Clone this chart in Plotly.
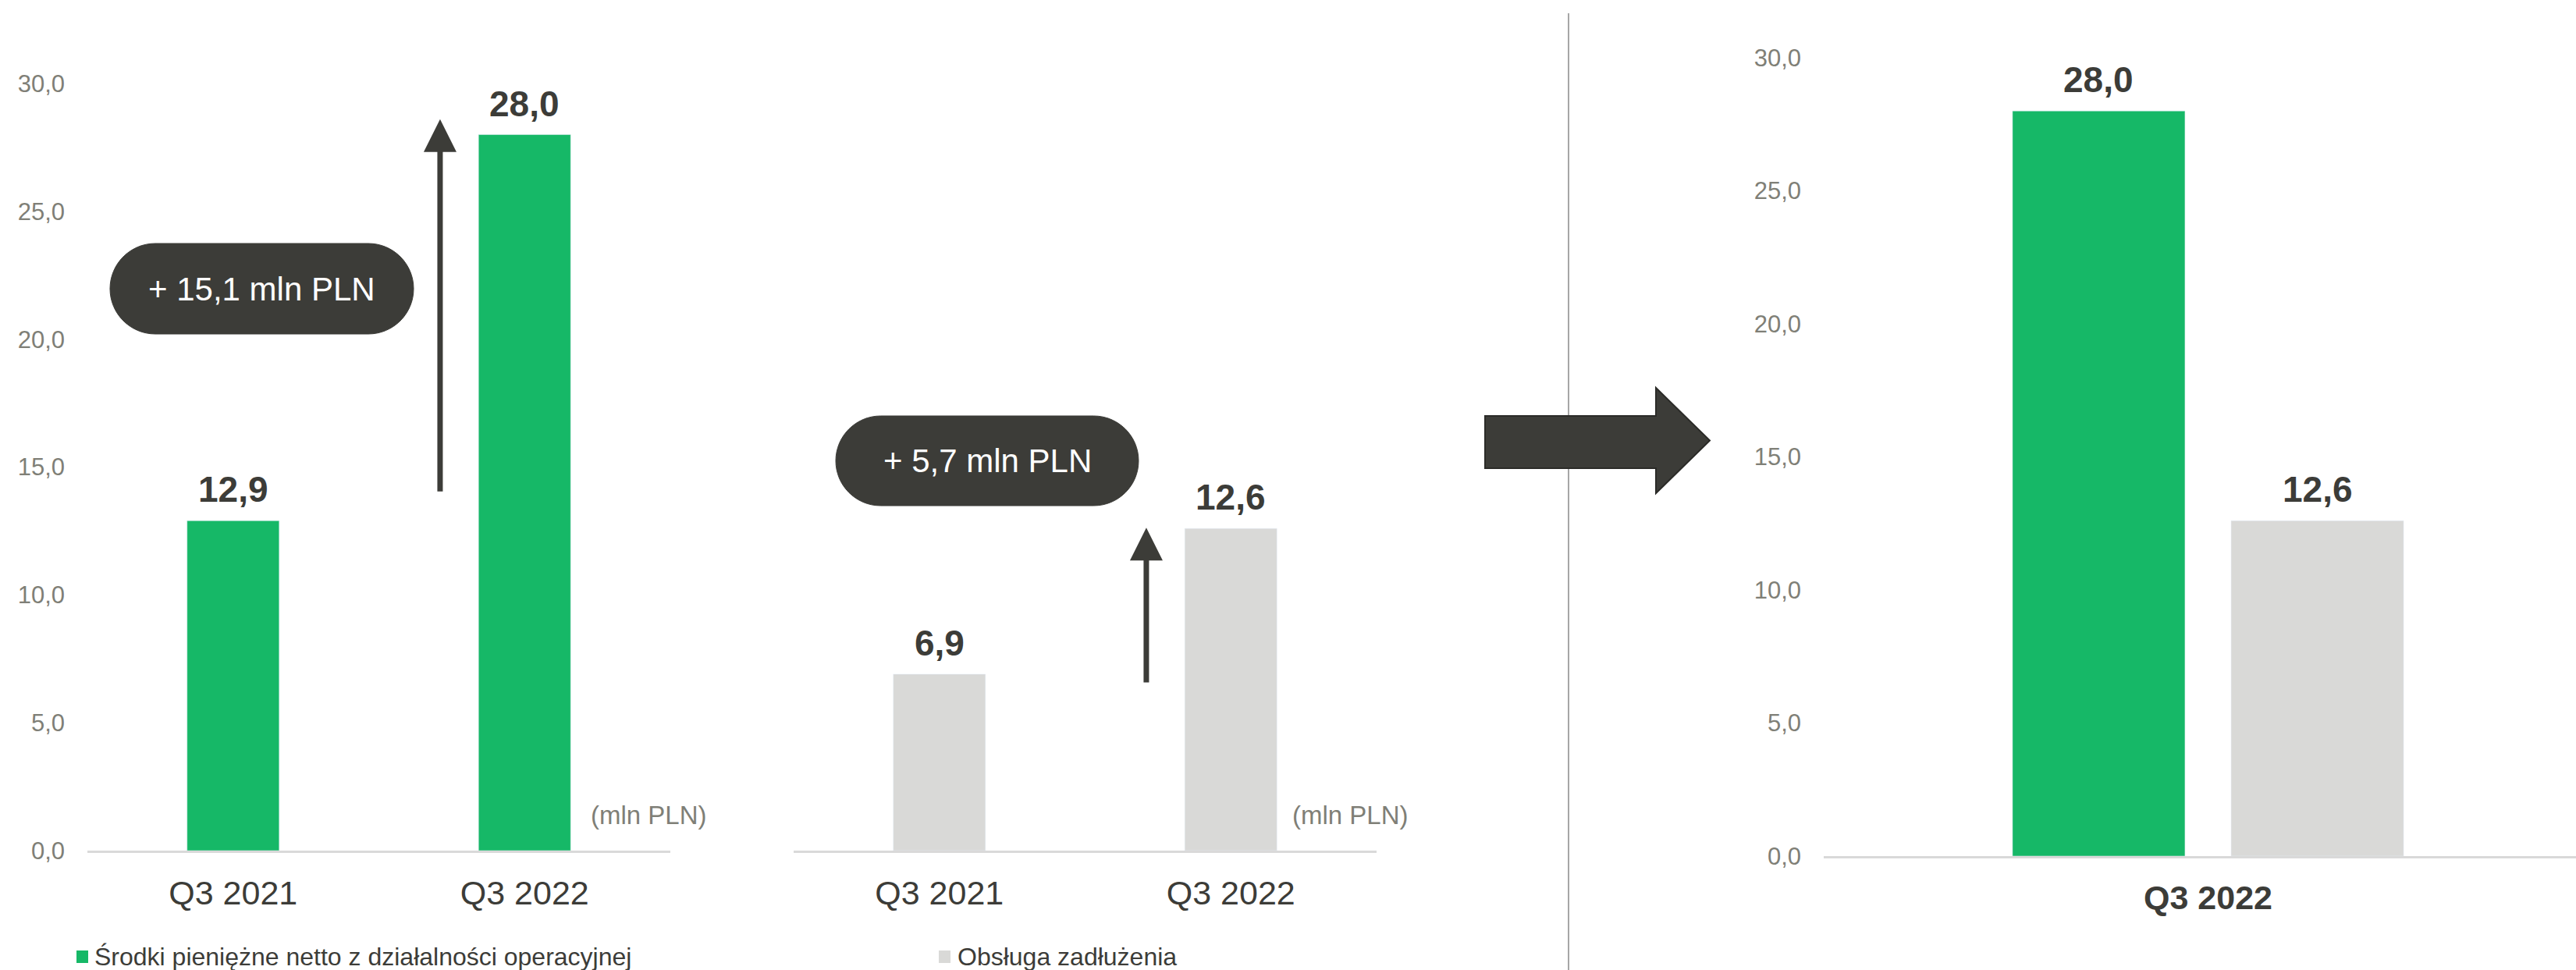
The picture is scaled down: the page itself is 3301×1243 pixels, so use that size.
import plotly.graph_objects as go

# ---------------- data ----------------
categories = ["Q3 2021", "Q3 2022"]
cash_ops = [12.9, 28.0]          # Środki pieniężne netto z działalności operacyjnej
debt_service = [6.9, 12.6]       # Obsługa zadłużenia
summary_category = ["Q3 2022"]
y_ticks = [0, 5, 10, 15, 20, 25, 30]
series_names = ["Środki pieniężne netto z działalności operacyjnej", "Obsługa zadłużenia"]
unit_label = "(mln PLN)"

# ---------------- style ----------------
W, H = 3301, 1243
GREEN = "#16b867"
GREY = "#d9d9d7"
DARK = "#3c3c38"
TICK_GREY = "#7f7f77"
FONT = "Liberation Sans, Arial, sans-serif"


def px(x):
    return x / W


def py(y):
    return 1 - y / H


fig = go.Figure()

# panel 1 / panel 2 bars
fig.add_trace(go.Bar(x=categories, y=cash_ops, marker_color=GREEN, width=0.316,
                     name=series_names[0], xaxis="x", yaxis="y", showlegend=False))
fig.add_trace(go.Bar(x=categories, y=debt_service, marker_color=GREY, width=0.316,
                     name=series_names[1], xaxis="x2", yaxis="y2", showlegend=False))
# panel 3 (comparison of latest quarter)
bw3 = 0.2244
fig.add_trace(go.Bar(x=summary_category, y=[cash_ops[-1]], marker_color=GREEN, width=bw3,
                     offset=-0.2544, showlegend=False, name=series_names[0], xaxis="x3", yaxis="y3"))
fig.add_trace(go.Bar(x=summary_category, y=[debt_service[-1]], marker_color=GREY, width=bw3,
                     offset=0.03, showlegend=False, name=series_names[1], xaxis="x3", yaxis="y3"))

annotations = []
shapes = []


def fmt(v):
    return f"{v:.1f}".replace(".", ",")


VAL_FONT = dict(size=46, color=DARK, family=FONT)
# value labels
for i, v in enumerate(cash_ops):
    annotations.append(dict(x=i, y=v, xref="x", yref="y", text=f"<b>{fmt(v)}</b>", showarrow=False,
                            xanchor="center", yanchor="bottom", yshift=12, font=VAL_FONT))
for i, v in enumerate(debt_service):
    annotations.append(dict(x=i, y=v, xref="x2", yref="y2", text=f"<b>{fmt(v)}</b>", showarrow=False,
                            xanchor="center", yanchor="bottom", yshift=12, font=VAL_FONT))
annotations.append(dict(x=-0.2544 + bw3 / 2, y=cash_ops[-1], xref="x3", yref="y3", text=f"<b>{fmt(cash_ops[-1])}</b>",
                        showarrow=False, xanchor="center", yanchor="bottom", yshift=12, font=VAL_FONT))
annotations.append(dict(x=0.03 + bw3 / 2, y=debt_service[-1], xref="x3", yref="y3", text=f"<b>{fmt(debt_service[-1])}</b>",
                        showarrow=False, xanchor="center", yanchor="bottom", yshift=12, font=VAL_FONT))

# growth arrows
annotations.append(dict(x=0.71, y=28.6, ax=0.71, ay=14.0, xref="x", yref="y", axref="x", ayref="y",
                        showarrow=True, arrowhead=2, arrowsize=1.2, arrowwidth=7, arrowcolor=DARK, text=""))
annotations.append(dict(x=0.71, y=12.63, ax=0.71, ay=6.53, xref="x2", yref="y2", axref="x2", ayref="y2",
                        showarrow=True, arrowhead=2, arrowsize=1.2, arrowwidth=7, arrowcolor=DARK, text=""))

# unit labels
for cx in (831, 1730):
    annotations.append(dict(x=px(cx), y=py(1044), xref="paper", yref="paper", text=unit_label, showarrow=False,
                            xanchor="center", yanchor="middle", font=dict(size=33, color=TICK_GREY, family=FONT)))


# pills
def pill(x0, y0, x1, y1):
    r = (y1 - y0) / 2
    k = 0.5523 * r
    cy = (y0 + y1) / 2
    pts = [
        ("M", [(x0 + r, y0)]),
        ("L", [(x1 - r, y0)]),
        ("C", [(x1 - r + k, y0), (x1, cy - k), (x1, cy)]),
        ("C", [(x1, cy + k), (x1 - r + k, y1), (x1 - r, y1)]),
        ("L", [(x0 + r, y1)]),
        ("C", [(x0 + r - k, y1), (x0, cy + k), (x0, cy)]),
        ("C", [(x0, cy - k), (x0 + r - k, y0), (x0 + r, y0)]),
    ]
    s = ""
    for cmd, ps in pts:
        s += cmd + " ".join(f"{px(a):.6f},{py(b):.6f}" for a, b in ps)
    return s + "Z"


delta_cash = cash_ops[1] - cash_ops[0]
delta_debt = debt_service[1] - debt_service[0]
for (x0, y0, x1, y1), d in [((141, 312, 530, 428), delta_cash), ((1071, 533, 1459, 648), delta_debt)]:
    shapes.append(dict(type="path", xref="paper", yref="paper", path=pill(x0, y0, x1, y1),
                       fillcolor=DARK, line=dict(color=DARK, width=1), layer="above"))
    annotations.append(dict(x=px((x0 + x1) / 2), y=py((y0 + y1) / 2), xref="paper", yref="paper",
                            xanchor="center", yanchor="middle",
                            text=f"+ {fmt(d)} mln PLN", showarrow=False,
                            font=dict(size=42, color="white", family=FONT)))

# legend (drawn manually so it does not push the margins)
for (sx, tx), name, col in [((98, 119), series_names[0], GREEN), ((1203, 1225), series_names[1], GREY)]:
    shapes.append(dict(type="rect", xref="paper", yref="paper", x0=px(sx), x1=px(sx + 15),
                       y0=py(1234), y1=py(1218), fillcolor=col, line=dict(width=0)))
    annotations.append(dict(x=px(tx), y=py(1226), xref="paper", yref="paper", text=name, showarrow=False,
                            xanchor="left", yanchor="middle", font=dict(size=32, color=DARK, family=FONT)))

# separator line
shapes.append(dict(type="line", xref="paper", yref="paper", x0=px(2010), x1=px(2010), y0=0, y1=py(17),
                   line=dict(color="#a6a6a6", width=2)))
# big arrow
arrow_pts = [(1903, 533), (2122, 533), (2122, 497), (2191, 564.5), (2122, 632), (2122, 600), (1903, 600)]
apath = "M" + "L".join(f"{px(a):.6f},{py(b):.6f}" for a, b in arrow_pts) + "Z"
shapes.append(dict(type="path", xref="paper", yref="paper", path=apath, fillcolor=DARK,
                   line=dict(color="#2b2b28", width=2), layer="above"))

common_x = dict(type="category", showline=True, linecolor="#d9d9d9", linewidth=3, showgrid=False,
                zeroline=False, ticks="", fixedrange=True, automargin=False)
common_y = dict(range=[0, 30], tickvals=y_ticks, tickformat=".1f", showgrid=False, zeroline=False,
                showline=False, ticks="", tickfont=dict(size=31, color=TICK_GREY, family=FONT),
                ticklabelstandoff=28, fixedrange=True, automargin=False)

fig.update_layout(
    width=W, height=H,
    margin=dict(l=0, r=0, t=0, b=0, autoexpand=False),
    paper_bgcolor="white", plot_bgcolor="white",
    separators=", ",
    barmode="overlay",
    showlegend=False,
    font=dict(family=FONT, color=DARK),
    xaxis=dict(domain=[px(112), px(859)], anchor="y", range=[-0.5, 1.5], ticklabelstandoff=14,
               tickfont=dict(size=43, color=DARK, family=FONT), **common_x),
    yaxis=dict(domain=[py(1090), py(107)], anchor="x", **common_y),
    xaxis2=dict(domain=[px(1017), px(1764)], anchor="y2", range=[-0.5, 1.5], ticklabelstandoff=14,
                tickfont=dict(size=43, color=DARK, family=FONT), **common_x),
    yaxis2=dict(domain=[py(1090), py(107)], anchor="x2", showticklabels=False, **common_y),
    xaxis3=dict(domain=[px(2337), 1.0], anchor="y3", range=[-0.5, 0.4787],
                tickvals=summary_category, ticktext=[f"<b>{c}</b>" for c in summary_category],
                ticklabelstandoff=13, tickfont=dict(size=43, color=DARK, family=FONT), **common_x),
    yaxis3=dict(domain=[py(1097), py(74)], anchor="x3", **common_y),
    annotations=annotations,
    shapes=shapes,
)

fig.write_html("out.html")
